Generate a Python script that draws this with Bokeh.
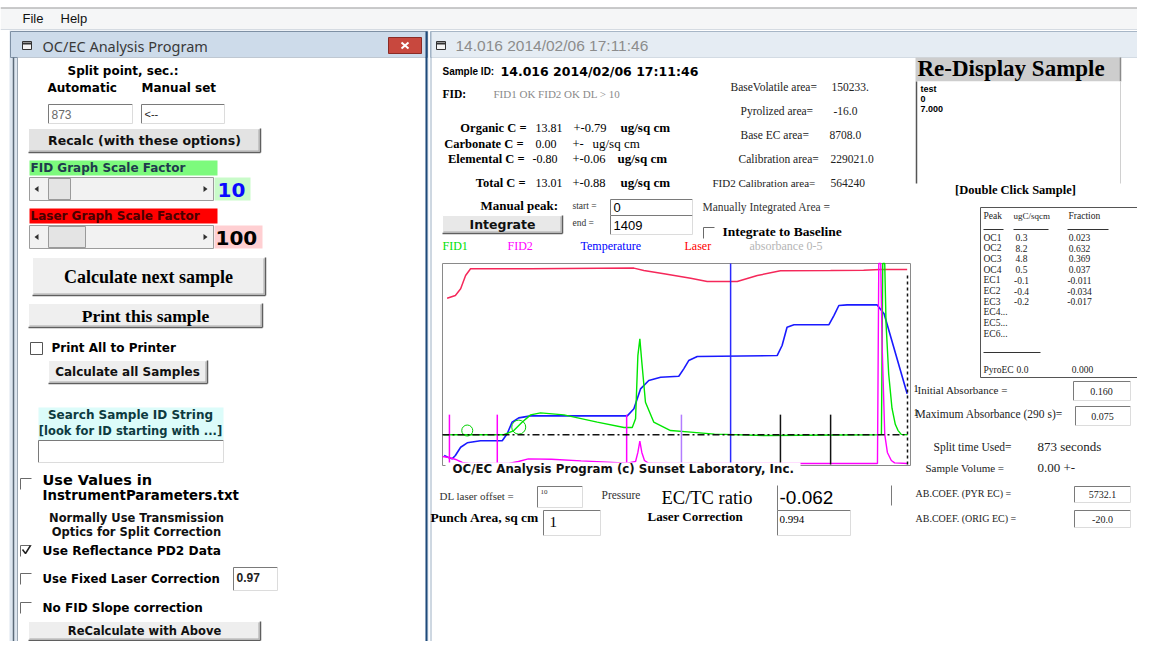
from bokeh.plotting import figure
from bokeh.models import Range1d
from bokeh.core.properties import value
from bokeh.embed import file_html
from bokeh.resources import INLINE

# ---------------- chart data (thermogram) ----------------
laser_t = [14, 39, 55, 70, 85, 267, 580, 610, 671, 752, 802, 893, 954, 1024, 1176, 1276, 1326, 1408]
laser_y = [82.7, 84.1, 87.4, 94.0, 97.4, 97.4, 97.7, 96.5, 94.9, 92.7, 91.0, 91.0, 94.0, 96.4, 96.5, 96.7, 97.0, 97.0]

temp_t = [5, 16, 29, 39, 55, 75, 115, 181, 196, 211, 231, 267, 560, 580, 600, 625, 661, 716, 731, 746, 772,
          1014, 1029, 1044, 1065, 1171, 1186, 1201, 1226, 1317, 1338, 1408]
temp_y = [4.5, 3.6, 2.8, 4.5, 8.6, 10.8, 11.8, 11.8, 15.3, 21.1, 23.2, 24.2, 24.2, 27.7, 37.6, 41.8, 43.4, 43.9, 47.6, 51.7, 53.7,
          54.2, 59.2, 68.3, 69.5, 69.6, 74.1, 79.1, 79.4, 79.4, 75.0, 35.2]

fid1_t = [3, 44, 90, 186, 216, 241, 267, 297, 368, 469, 550, 575, 585, 592, 598, 604, 615, 640, 691, 752, 824, 975,
          1317, 1330, 1334, 1340, 1344, 1352, 1362, 1372, 1380, 1390, 1409]
fid1_y = [14.8, 14.8, 14.8, 14.8, 16.9, 21.0, 24.7, 25.7, 24.7, 21.1, 18.4, 18.4, 22.7, 54.2, 62.5, 50.9, 31.0, 21.1, 16.9, 16.1, 15.1, 14.4,
          14.8, 15.0, 100, 100, 70, 45, 28, 20, 17, 15, 14.8]

fid2_t = [0, 20, 40, 60, 80, 200, 230, 260, 330, 420, 500, 560, 585, 592, 598, 604, 612, 625, 700, 900, 1100, 1318,
          1322, 1328, 1332, 1340, 1348, 1360, 1370, 1409]
fid2_y = [4, 3.5, 2.5, 1, 0.5, 0.5, 1.5, 2.8, 2.6, 1.8, 1.2, 0.7, 1.5, 6, 11.6, 6, 2, 0.6, 0.5, 0.5, 0.5, 0.5,
          100, 100, 60, 15, 6, 2, 0.8, 0.5]

loop_t = [75, 231]
loop_y = [16.9, 18.6]
loop_size = [11, 14]

peak_mark_t = [21, 166, 558]
purple_mark_t = [724]
black_mark_t = [1024, 1176]
mark_top = 24.8
split_t = 873
end_t = 1409
end_top = 94
baseline_y = 14.8

legend_names = ["FID1", "FID2", "Temperature", "Laser", "absorbance 0-5"]

peak_names = ["OC1", "OC2", "OC3", "OC4", "EC1", "EC2", "EC3", "EC4...", "EC5...", "EC6..."]
peak_ugc = ["0.3", "8.2", "4.8", "0.5", "-0.1", "-0.4", "-0.2", "", "", ""]
peak_frac = ["0.023", "0.632", "0.369", "0.037", "-0.011", "-0.034", "-0.017", "", "", ""]

# ---------------- figure (picture pixel coordinates) ----------------
W, H = 1137, 641
p = figure(width=W, height=H, x_range=Range1d(0, W), y_range=Range1d(H, 0),
           output_backend="svg", toolbar_location=None, min_border=0)
p.axis.visible = False
p.grid.visible = False
p.outline_line_color = None
p.background_fill_color = "white"
p.border_fill_color = "white"

# chart sub-area: t in seconds, y in graph units 0..100
CX0, CX1, CY0, CY1 = 442, 907, 464, 263
sx = (CX1 - CX0) / end_t
sy = (CY0 - CY1) / 100.0
p.extra_x_ranges = {"t": Range1d((0 - CX0) / sx, (W - CX0) / sx)}
p.extra_y_ranges = {"g": Range1d((CY0 - H) / sy, (CY0 - 0) / sy)}
CH = dict(x_range_name="t", y_range_name="g")

SANS = "Liberation Sans"
BS = "DejaVu Sans"
SERIF = "Liberation Serif"


def T(x, y, s, size=12, font=BS, style="bold", color="#000000", align="left"):
    p.text(x=[x], y=[y], text=[s], text_font=value(font), text_font_size=f"{size}px",
           text_font_style=style, text_color=color, text_align=align, text_baseline="middle")


def rect(l, r, t, b, fill="white", line=None, lw=1):
    p.quad(left=[l], right=[r], top=[t], bottom=[b], fill_color=fill, line_color=line, line_width=lw)


def seg(x0, y0, x1, y1, color="#000", lw=1, dash="solid"):
    p.segment(x0=[x0], y0=[y0], x1=[x1], y1=[y1], line_color=color, line_width=lw, line_dash=dash)


def sunken(l, r, t, b, fill="white"):
    rect(l, r, t, b, fill=fill)
    seg(l, t, r, t, "#7a7a7a")
    seg(l, t, l, b, "#7a7a7a")
    seg(l, b, r, b, "#dcdcdc")
    seg(r, t, r, b, "#dcdcdc")


def button(l, r, t, b, fill="#ebebeb"):
    rect(l, r, t, b, fill=fill)
    seg(l, t, r, t, "#ffffff")
    seg(l, t, l, b, "#ffffff")
    seg(l, b, r, b, "#5f5f5f", 1.5)
    seg(r, t, r, b, "#5f5f5f", 1.5)
    seg(l + 1, b - 1.5, r - 1.5, b - 1.5, "#a8a8a8")
    seg(r - 1.5, t + 1, r - 1.5, b - 1.5, "#a8a8a8")


def checkbox(x, y, s=11, full=False):
    if full:
        rect(x, x + s, y, y + s, fill="white", line="#555555")
    else:
        seg(x, y, x + s, y, "#6a6a6a")
        seg(x, y, x, y + s, "#6a6a6a")


def tri(cx, cy, d):
    p.patch(x=[cx + 2 * d, cx - 2 * d, cx - 2 * d], y=[cy, cy - 3, cy + 3], fill_color="#303030", line_color=None)


def scroll(l, r, t, b, thumb_l, thumb_r):
    rect(l, r, t, b, fill="#f2f2f2", line="#9c9c9c")
    rect(thumb_l, thumb_r, t + 1, b - 1, fill="#e4e4e4", line="#9a9a9a")
    tri(l + 7, (t + b) / 2, -1)
    tri(r - 8, (t + b) / 2, 1)


# ---------------- menu bar / window chrome ----------------
rect(0, W, 7, 29, fill="#f5f6f7")
seg(0, 7.5, W, 7.5, "#9a9a9a")
seg(0, 29, W, 29, "#d5dbe2")
T(22, 18, "File", 13, SANS, "normal", "#111111")
T(60, 18, "Help", 13, SANS, "normal", "#111111")

# left window
rect(9, 428, 30, H, fill="#dde6f0", line=None)
rect(10, 427, 31, 57, fill="#cddbea", line="#7e90a4")
rect(17, 425, 57, H, fill="white")
seg(13, 57, 13, H, "#5c6b7a", 1.5)
seg(17, 57, 17, H, "#9aa6b3")
seg(426, 31, 426, H, "#1f4a7a", 2)
rect(22, 31, 41, 49, fill="#f4f4f4", line="#333333")
seg(22, 43, 31, 43, "#333333", 2)
T(42, 45, "OC/EC Analysis Program", 14.5, "Noto Sans", "normal", "#3a3a3a")
rect(388, 421, 37, 53, fill="#c8483e", line="#8b2b25")
seg(401, 42, 408, 48, "white", 2)
seg(408, 42, 401, 48, "white", 2)

# right window
rect(430, W, 31, 57, fill="#e5ecf3", line="#a7b6c6")
rect(431, W, 57, H, fill="white")
seg(430.5, 31, 430.5, H, "#9db0c4")
rect(436, 445, 41, 49, fill="#f4f4f4", line="#333333")
seg(436, 43, 445, 43, "#333333", 2)
T(455, 45, "14.016 2014/02/06 17:11:46", 15.5, SANS, "normal", "#8c8c8c")

# ---------------- left panel ----------------
T(67, 70, "Split point, sec.:", 12)
T(47, 87, "Automatic", 12)
T(141, 87, "Manual set", 12)
sunken(48, 132, 104, 123)
T(51, 113.5, "873", 12, SANS, "normal", "#6a6a6a")
sunken(141, 224, 104, 123)
T(144, 113.5, "<--", 11, SANS, "normal", "#222222")
button(28, 260, 128, 152, fill="#e3e3e3")
T(144, 140, "Recalc (with these options)", 12.5, BS, "bold", "#111111", "center")

rect(29, 217, 160, 175, fill="#7dfa7d")
T(30, 167.5, "FID Graph Scale Factor", 12, BS, "bold", "#1f3b4d")
scroll(29, 213, 177, 200, 48, 70)
rect(214, 250, 177, 200, fill="#c9fbc9")
T(217, 189, "10", 20, BS, "bold", "#0a0aff")

rect(29, 217, 208, 223, fill="#ff0000")
T(30, 215.5, "Laser Graph Scale Factor", 12, BS, "bold", "#4a0000")
scroll(29, 213, 225, 248, 48, 85)
rect(214, 262, 225, 248, fill="#ffcfd2")
T(215, 237, "100", 20, BS, "bold", "#000000")

button(32, 265, 257, 295, fill="#efefef")
T(148, 276, "Calculate next sample", 18, SERIF, "bold", "#000000", "center")
button(28, 262, 303, 327, fill="#efefef")
T(145, 315, "Print this sample", 17.5, SERIF, "bold", "#000000", "center")

checkbox(30, 342, 12, full=True)
T(51, 347, "Print All to Printer", 12)
button(48, 207, 360, 383, fill="#eeeeee")
T(127, 371, "Calculate all Samples", 12, BS, "bold", "#111111", "center")

rect(38, 223, 407, 440, fill="#dcfcfa")
T(130, 414, "Search Sample ID String", 12, BS, "bold", "#0d3a40", "center")
T(130, 430, "[look for ID starting with ...]", 11.5, BS, "bold", "#0d3a40", "center")
sunken(38, 223, 440, 462)

checkbox(20, 478)
T(42, 479, "Use Values in", 14.5)
T(42, 495, "InstrumentParameters.txt", 13.3)
T(136, 517, "Normally Use Transmission", 11.5, BS, "bold", "#111111", "center")
T(136, 531, "Optics for Split Correction", 11.5, BS, "bold", "#111111", "center")
checkbox(20, 545)
p.line(x=[22, 25, 30], y=[549, 553, 545], line_color="#222222", line_width=1.5)
T(42, 550, "Use Reflectance PD2 Data", 12.2)
checkbox(20, 573)
T(42, 578, "Use Fixed Laser Correction", 11.7)
sunken(233, 277, 567, 590)
T(236, 577, "0.97", 12, SANS, "bold", "#222222")
checkbox(20, 602)
T(42, 607, "No FID Slope correction", 12)
button(28, 260, 621, 640, fill="#eeeeee")
T(144, 630, "ReCalculate with Above", 11.5, BS, "bold", "#111111", "center")

# ---------------- right window: header info ----------------
T(442, 71, "Sample ID:", 10, SANS, "bold")
T(500, 71, "14.016 2014/02/06 17:11:46", 12.5, BS, "bold")
T(442, 93, "FID:", 11.5, SERIF, "bold")
T(493, 93, "FID1 OK  FID2 OK DL > 10", 11, SERIF, "normal", "#8a8a8a")

T(526, 127, "Organic C =", 12.5, SERIF, "bold", "#000", "right")
T(535, 127, "13.81", 12, SERIF, "normal")
T(573, 127, "+-0.79", 12.5, SERIF, "normal")
T(620, 127, "ug/sq cm", 13, SERIF, "bold")
T(523, 143, "Carbonate C =", 12.5, SERIF, "bold", "#000", "right")
T(535, 143, "0.00", 12, SERIF, "normal")
T(572, 143, "+-", 12.5, SERIF, "normal")
T(592, 143, "ug/sq cm", 13, SERIF, "normal")
T(524, 158, "Elemental C =", 12.5, SERIF, "bold", "#000", "right")
T(532, 158, "-0.80", 12, SERIF, "normal")
T(572, 158, "+-0.06", 12.5, SERIF, "normal")
T(617, 158, "ug/sq cm", 13, SERIF, "bold")
T(525, 182, "Total C =", 12.5, SERIF, "bold", "#000", "right")
T(535, 182, "13.01", 12, SERIF, "normal")
T(572, 182, "+-0.88", 12.5, SERIF, "normal")
T(620, 182, "ug/sq cm", 13, SERIF, "bold")

T(730, 86, "BaseVolatile area=", 11.5, SERIF, "normal", "#222")
T(831, 86, "150233.", 11.5, SERIF, "normal", "#222")
T(740, 110, "Pyrolized area=", 11.5, SERIF, "normal", "#222")
T(833, 110, "-16.0", 11.5, SERIF, "normal", "#222")
T(740, 134, "Base EC area=", 11.5, SERIF, "normal", "#222")
T(829, 134, "8708.0", 11.5, SERIF, "normal", "#222")
T(738, 158, "Calibration area=", 11.5, SERIF, "normal", "#222")
T(830, 158, "229021.0", 11.5, SERIF, "normal", "#222")
T(712, 182, "FID2 Calibration area=", 11, SERIF, "normal", "#222")
T(830, 182, "564240", 11.5, SERIF, "normal", "#222")

T(480, 205, "Manual peak:", 13, SERIF, "bold")
T(572, 205, "start =", 9.5, SERIF, "normal", "#333")
T(572, 222, "end =", 9.5, SERIF, "normal", "#333")
sunken(610, 692, 199, 215)
T(613, 207, "0", 13, SANS, "normal")
sunken(610, 692, 215, 234)
T(613, 224.5, "1409", 13, SANS, "normal")
button(442, 562, 215, 233, fill="#e8e8e8")
T(502, 224, "Integrate", 12.5, BS, "bold", "#111111", "center")
T(702, 206, "Manually Integrated Area =", 11.5, SERIF, "normal", "#333")
checkbox(703, 227, 11)
T(722, 231, "Integrate to Baseline", 13.5, SERIF, "bold")

legend_x = [442, 507, 580, 684, 749]
legend_col = ["#00e000", "#ff00ff", "#0000ff", "#ff0000", "#b5b5b5"]
for nm, lx, lc in zip(legend_names, legend_x, legend_col):
    T(lx, 245, nm, 12, SERIF, "normal", lc)

# ---------------- chart ----------------
rect(442, 910, 263, 465, fill="white", line="#8a8a8a")
p.line(laser_t, laser_y, line_color="#f5285a", line_width=1.5, **CH)
p.line(temp_t, temp_y, line_color="#1a1aff", line_width=1.6, **CH)
p.line(fid1_t, fid1_y, line_color="#00e600", line_width=1.4, **CH)
p.line(fid2_t, fid2_y, line_color="#ff00ff", line_width=1.4, **CH)
p.scatter(loop_t, loop_y, size=loop_size, marker="circle", fill_color=None, line_color="#00d000", **CH)
p.segment(x0=peak_mark_t, y0=[0] * len(peak_mark_t), x1=peak_mark_t, y1=[mark_top] * len(peak_mark_t),
          line_color="#ff00ff", line_width=1.5, **CH)
p.segment(x0=purple_mark_t, y0=[0], x1=purple_mark_t, y1=[mark_top], line_color="#b37cff", line_width=1.5, **CH)
p.segment(x0=black_mark_t, y0=[0] * len(black_mark_t), x1=black_mark_t, y1=[mark_top] * len(black_mark_t),
          line_color="#111111", line_width=1.5, **CH)
p.segment(x0=[split_t], y0=[0], x1=[split_t], y1=[100], line_color="#2a2aff", line_width=1.5, **CH)
p.segment(x0=[0], y0=[baseline_y], x1=[end_t], y1=[baseline_y], line_color="#111111", line_width=1.5,
          line_dash="7 3 2 3", **CH)
p.segment(x0=[end_t], y0=[0], x1=[end_t], y1=[end_top], line_color="#111111", line_width=1.5,
          line_dash="3 3", **CH)
T(913, 388, "1", 10, SERIF, "normal")
T(913, 412, "1", 10, SERIF, "normal")

rect(445, 800, 462, 475, fill="white")
T(452, 468.5, "OC/EC Analysis Program (c) Sunset Laboratory, Inc.", 11.8, BS, "bold", "#111111")

# ---------------- bottom fields ----------------
T(439, 495, "DL laser offset =", 11, SERIF, "normal", "#333")
sunken(537, 582, 486, 507)
T(540, 491, "10", 7, SERIF, "normal", "#333")
T(601, 494, "Pressure", 11.5, SERIF, "normal", "#333")
T(661, 497, "EC/TC ratio", 18.5, SERIF, "normal")
seg(777, 485, 777, 510, "#7a7a7a")
T(779, 497, "-0.062", 19, SANS, "normal")
seg(891, 485, 891, 505, "#7a7a7a")
T(430, 517, "Punch Area, sq cm", 13.5, SERIF, "bold")
sunken(543, 600, 510, 535)
T(549, 521, "1", 15, SERIF, "normal")
T(647, 516, "Laser Correction", 13, SERIF, "bold")
sunken(777, 850, 510, 535)
T(779, 519, "0.994", 11, SERIF, "normal")

# ---------------- right panel ----------------
rect(915, 1120, 57, 81, fill="#cdcdcd")
seg(1120, 57, 1120, 81, "#8a8a8a", 1.5)
T(917, 68, "Re-Display Sample", 23, SERIF, "bold")
rect(915, 1120, 81, 183, fill="white")
seg(916, 81, 916, 183, "#555555", 1.5)
seg(1120, 81, 1120, 183, "#d0d0d0")
T(920, 88, "test", 9, SANS, "bold")
T(920, 98, "0", 9, SANS, "bold")
T(920, 108, "7.000", 9, SANS, "bold")
T(1015, 189, "[Double Click Sample]", 12.5, SERIF, "bold", "#000", "center")

rect(980, 1139, 207, 377, fill="white", line="#555555")
T(983, 215, "Peak", 9.5, SERIF, "normal", "#222")
T(1013, 215, "ugC/sqcm", 9, SERIF, "normal", "#222")
T(1068, 215, "Fraction", 9.5, SERIF, "normal", "#222")
seg(983, 229, 1003, 229, "#333")
seg(1013, 229, 1048, 229, "#333")
seg(1067, 229, 1108, 229, "#333")
for i, (nm, ug, fr) in enumerate(zip(peak_names, peak_ugc, peak_frac)):
    yy = 237 + i * 10.7
    T(983, yy, nm, 9.5, SERIF, "normal", "#222")
    if ug:
        T(1021, yy, ug, 9.5, SERIF, "normal", "#222", "center")
        T(1079, yy, fr, 9.5, SERIF, "normal", "#222", "center")
seg(983, 352, 1040, 352, "#333")
T(983, 369, "PyroEC", 9.5, SERIF, "normal", "#222")
T(1022, 369, "0.0", 9.5, SERIF, "normal", "#222", "center")
T(1082, 369, "0.000", 9.5, SERIF, "normal", "#222", "center")

T(917, 389, "Initial Absorbance =", 11, SERIF, "normal", "#222")
sunken(1073, 1130, 381, 400)
T(1101, 390.5, "0.160", 10, SERIF, "normal", "#222", "center")
T(915, 413, "Maximum Absorbance (290 s)=", 11.5, SERIF, "normal", "#222")
sunken(1075, 1130, 406, 425)
T(1102, 415.5, "0.075", 10, SERIF, "normal", "#222", "center")

T(933, 446, "Split time Used=", 11.5, SERIF, "normal", "#222")
T(1037, 446, "873 seconds", 13, SERIF, "normal", "#222")
T(925, 467, "Sample Volume =", 11, SERIF, "normal", "#222")
T(1037, 467, "0.00  +-", 13, SERIF, "normal", "#222")
T(915, 493, "AB.COEF. (PYR EC) =", 10, SERIF, "normal", "#222")
sunken(1074, 1130, 486, 502)
T(1102, 494, "5732.1", 10, SERIF, "normal", "#222", "center")
T(915, 518, "AB.COEF. (ORIG EC) =", 10, SERIF, "normal", "#222")
sunken(1074, 1130, 510, 527)
T(1102, 518.5, "-20.0", 10, SERIF, "normal", "#222", "center")

open("out.html", "w").write(file_html(p, INLINE))
